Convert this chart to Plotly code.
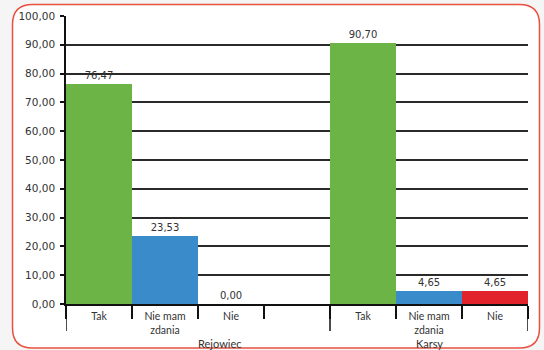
import plotly.graph_objects as go

# Survey answers per locality (percent)
groups = ["Rejowiec"] * 4 + ["Karsy"] * 3
answers = ["Tak", "Nie mam<br>zdania", "Nie", "", "Tak", "Nie mam<br>zdania", "Nie"]
tak = [76.47, None, None, None, 90.70, None, None]
nie_mam_zdania = [None, 23.53, None, None, None, 4.65, None]
nie = [None, None, 0.00, None, None, None, 4.65]
y_ticks = [0, 10, 20, 30, 40, 50, 60, 70, 80, 90, 100]
group_names = ["Rejowiec", "Karsy"]
group_label_x = [1.83, 5.0]

# one unique category key per slot on the x axis
keys = [f"{g}|{i}" for i, g in enumerate(groups)]

GREEN = "#6cb446"
BLUE = "#3a8bca"
RED = "#e2232b"
INK = "#111111"
TEXT = "#333333"

fig = go.Figure()
for vals, color in [(tak, GREEN), (nie_mam_zdania, BLUE), (nie, RED)]:
    fig.add_trace(go.Bar(
        x=keys,
        y=vals,
        marker=dict(color=color, line=dict(width=0)),
        texttemplate="%{y:.2f}",
        textposition="outside",
        cliponaxis=False,
        textfont=dict(family="DejaVu Sans", size=10, color=TEXT),
        width=1,
        showlegend=False,
    ))

# plot area in pixels: x 66..528, y 16..304
L, R, T, B = 66, 528, 16, 304
W, H = 544, 350
pw, ph = R - L, B - T


def px(x):
    return (x - L) / pw


def py(y):
    return (B - y) / ph


# rounded frame around the chart
x0, x1, y0, y1, r = 12.5, 539.5, 4.5, 348, 20
frame = (
    f"M {px(x0 + r)},{py(y0)} L {px(x1 - r)},{py(y0)} "
    f"Q {px(x1)},{py(y0)} {px(x1)},{py(y0 + r)} "
    f"L {px(x1)},{py(y1 - r)} "
    f"Q {px(x1)},{py(y1)} {px(x1 - r)},{py(y1)} "
    f"L {px(x0 + r)},{py(y1)} "
    f"Q {px(x0)},{py(y1)} {px(x0)},{py(y1 - r)} "
    f"L {px(x0)},{py(y0 + r)} "
    f"Q {px(x0)},{py(y0)} {px(x0 + r)},{py(y0)} Z"
)
shapes = [dict(type="path", path=frame, xref="paper", yref="paper",
               fillcolor="white", line=dict(color="#e8513f", width=1.5),
               layer="below")]

# longer separators at the outer edges and between the two localities
n_rej = groups.count("Rejowiec")
for edge in [-0.5, n_rej - 0.5, len(groups) - 0.5]:
    shapes.append(dict(type="line", xref="x", yref="paper",
                       x0=edge, x1=edge, y0=0, y1=py(331),
                       line=dict(color=INK, width=1.5)))

# locality names under the answer labels
annotations = [
    dict(x=gx, y=py(343), xref="x", yref="paper", text=name,
         showarrow=False, xanchor="center", yanchor="middle",
         borderpad=0,
         font=dict(family="Lato", size=11, color=TEXT))
    for name, gx in zip(group_names, group_label_x)
]

fig.update_layout(
    width=W, height=H,
    margin=dict(l=L, r=W - R, t=T, b=H - B, pad=0),
    paper_bgcolor="#f5f5f6",
    plot_bgcolor="rgba(0,0,0,0)",
    separators=", ",
    barmode="overlay",
    bargap=0,
    shapes=shapes,
    annotations=annotations,
    xaxis=dict(
        type="category",
        automargin=False,
        categoryorder="array", categoryarray=keys,
        tickvals=keys, ticktext=answers,
        range=[-0.5, len(keys) - 0.5],
        showline=True, linecolor=INK, linewidth=1.5,
        ticks="outside", ticklen=13, tickcolor=INK, tickwidth=1.5,
        tickson="boundaries",
        ticklabelstandoff=2,
        tickfont=dict(family="Lato", size=10.5, color=TEXT),
        showgrid=False,
    ),
    yaxis=dict(
        automargin=False,
        range=[0, 100], tickvals=y_ticks, tickformat=".2f",
        showline=True, linecolor=INK, linewidth=1.5,
        ticks="outside", ticklen=4, tickcolor=INK, tickwidth=1.5,
        showgrid=True, gridcolor="#2a2a2a", gridwidth=1.5,
        zeroline=False,
        tickfont=dict(family="DejaVu Sans", size=10.5, color=TEXT),
        ticklabelstandoff=3,
    ),
)

fig.write_html("out.html")
